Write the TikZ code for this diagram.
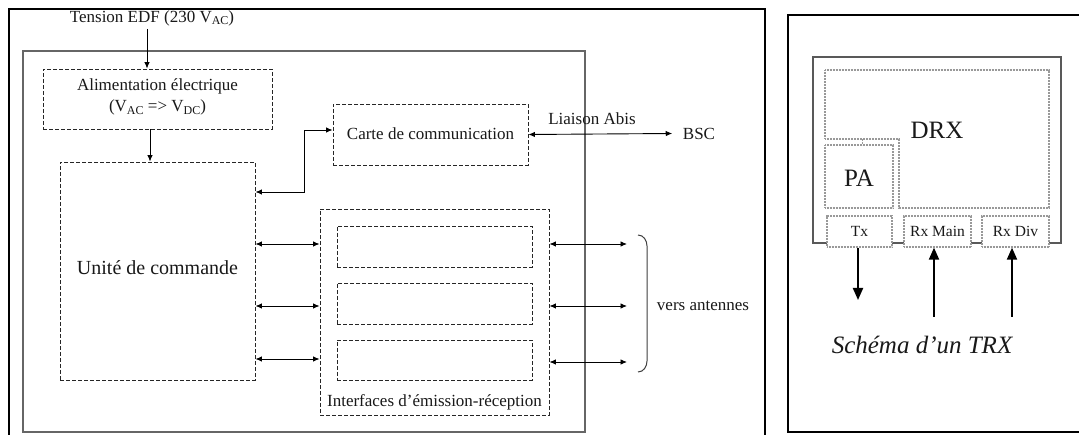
\documentclass[tikz,border=0pt]{standalone}
\usepackage{fontspec}
\setmainfont{Liberation Serif}
\usetikzlibrary{arrows.meta}
\newcommand\lowsub[1]{\raisebox{-0.35ex}{\fontsize{12}{12}\selectfont #1}}

\begin{document}
\begin{tikzpicture}[x=1pt,y=-1pt,
  >={Latex[length=6.5pt,width=5.5pt]},
  txt/.style={font=\fontsize{17}{20.5}\selectfont, inner sep=0pt, text=black!90},
  bigtxt/.style={font=\fontsize{25}{28}\selectfont, inner sep=0pt, text=black!90},
  smalltxt/.style={font=\fontsize{15.5}{17}\selectfont, inner sep=0pt, text=black!90},
  dbox/.style={draw=black!85, line width=0.9pt, dash pattern=on 3.6pt off 2.4pt, inner sep=0pt},
  dotline/.style={draw=black!40, line width=1.3pt, dash pattern=on 0.9pt off 0.6pt},
  dotbox/.style={dotline, fill=white, inner sep=0pt},
  sarrow/.style={line width=0.9pt, ->},
  darrow/.style={line width=0.9pt, <->},
  barrow/.style={line width=2pt, -{Triangle[length=12pt,width=10pt]}},
]
\useasboundingbox (0,0) rectangle (1079,435);
\fill[white] (0,0) rectangle (1079,435);

% ---------------- BTS block diagram ----------------
% outer frame and equipment cabinet
\draw[line width=1.5pt] (9,440) -- (9,9) -- (765,9) -- (765,440);
\draw[black!60, line width=1.5pt] (23,51) rectangle (585,432);

% mains input
\node[txt] (tension) at (152,18) {Tension EDF (230 V\lowsub{AC})};

% functional blocks
\node[dbox, minimum width=229pt, minimum height=60pt] (alim) at (157.5,99) {};
\node[txt, align=center] (alimtxt) at (157.5,97) {Alimentation électrique\\(V\lowsub{AC} => V\lowsub{DC})};

\node[dbox, minimum width=195pt, minimum height=61pt] (carte) at (430.5,134.5) {};
\node[txt] (cartetxt) at (430.5,134) {Carte de communication};

\node[dbox, minimum width=195pt, minimum height=218pt] (unite) at (157.5,271) {};
\node[txt, font=\fontsize{20}{24}\selectfont] (unitetxt) at (157.5,268) {Unité de commande};

\node[dbox, minimum width=229pt, minimum height=206pt] (iface) at (434.5,312) {};
\node[dbox, minimum width=195pt, minimum height=41pt] (slot1) at (434.5,246.5) {};
\node[dbox, minimum width=195pt, minimum height=41pt] (slot2) at (434.5,303.5) {};
\node[dbox, minimum width=195pt, minimum height=40pt] (slot3) at (434.5,360) {};
\node[txt] (ifacetxt) at (434.5,402) {Interfaces d’émission-réception};

% external ends
\node[txt] (bsc) at (699,133.5) {BSC};
\node[txt] (abis) at (592,119) {Liaison Abis};
\node[txt] (antennes) at (703,306) {vers antennes};

\coordinate (pin) at (147,29);
\coordinate (rowA) at (600,244);
\coordinate (rowB) at (600,306);
\coordinate (rowC) at (600,359);
\coordinate (ant1) at (627,244);
\coordinate (ant2) at (627,306);
\coordinate (ant3) at (627,362);

% connections
\draw[sarrow] (pin) -- (pin |- alim.north);
\draw[sarrow] ([xshift=-7.5pt]alim.south) -- ([xshift=-7.5pt]alim.south |- unite.north);
\draw[darrow] ([yshift=79pt]unite.east) -- ++(49,0) |- ([yshift=4.5pt]carte.west);
\draw[darrow] (carte.east) -- ([xshift=-10.5pt]bsc.west);

\draw[darrow] (unite.east |- rowA) -- (iface.west |- rowA);
\draw[darrow] (unite.east |- rowB) -- (iface.west |- rowB);
\draw[darrow] (unite.east |- rowC) -- (iface.west |- rowC);
\draw[darrow] (iface.east |- ant1) -- (ant1);
\draw[darrow] (iface.east |- ant2) -- (ant2);
\draw[darrow] (iface.east |- ant3) -- (ant3);

% bracket grouping the antenna links
\draw[black!75, line width=1pt] (638,235) to[out=0,in=90] (647,246) -- (647,361) to[out=-90,in=0] (638,372);

% ---------------- TRX sketch ----------------
\draw[line width=2.5pt] (1085,15) -- (788,15) -- (788,432) -- (1085,432);
\draw[black!65, line width=1.8pt] (813,57) rectangle (1061,243);

% DRX area (L-shaped) and power amplifier
\draw[dotline] (825,70) -- (1049,70) -- (1049,208) -- (899,208) -- (899,139) -- (825,139) -- cycle;
\node[dotbox, minimum width=68pt, minimum height=63pt] (pa) at (859,176.5) {};
\draw[dotline, line width=1pt] (862,139) -- (862,145);
\node[bigtxt] (drx) at (937,130) {DRX};
\node[bigtxt] (patxt) at (859,178) {PA};

% RF ports
\node[dotbox, minimum width=65pt, minimum height=31pt] (tx) at (859.5,231.5) {};
\node[dotbox, minimum width=67pt, minimum height=31pt] (rxm) at (937.5,231.5) {};
\node[dotbox, minimum width=67pt, minimum height=31pt] (rxd) at (1015.5,231.5) {};
\node[smalltxt] at (tx) {Tx};
\node[smalltxt] at (rxm) {Rx Main};
\node[smalltxt] at (rxd) {Rx Div};

\coordinate (txend) at (858,300);
\coordinate (rxmstart) at (934,317);
\coordinate (rxdstart) at (1012,317);
\draw[barrow] (txend |- tx.south) -- (txend);
\draw[barrow] (rxmstart) -- (rxmstart |- rxm.south);
\draw[barrow] (rxdstart) -- (rxdstart |- rxd.south);

\node[bigtxt, font=\fontsize{25}{28}\selectfont\itshape] (caption) at (922,345) {Schéma d’un TRX};
\end{tikzpicture}
\end{document}
